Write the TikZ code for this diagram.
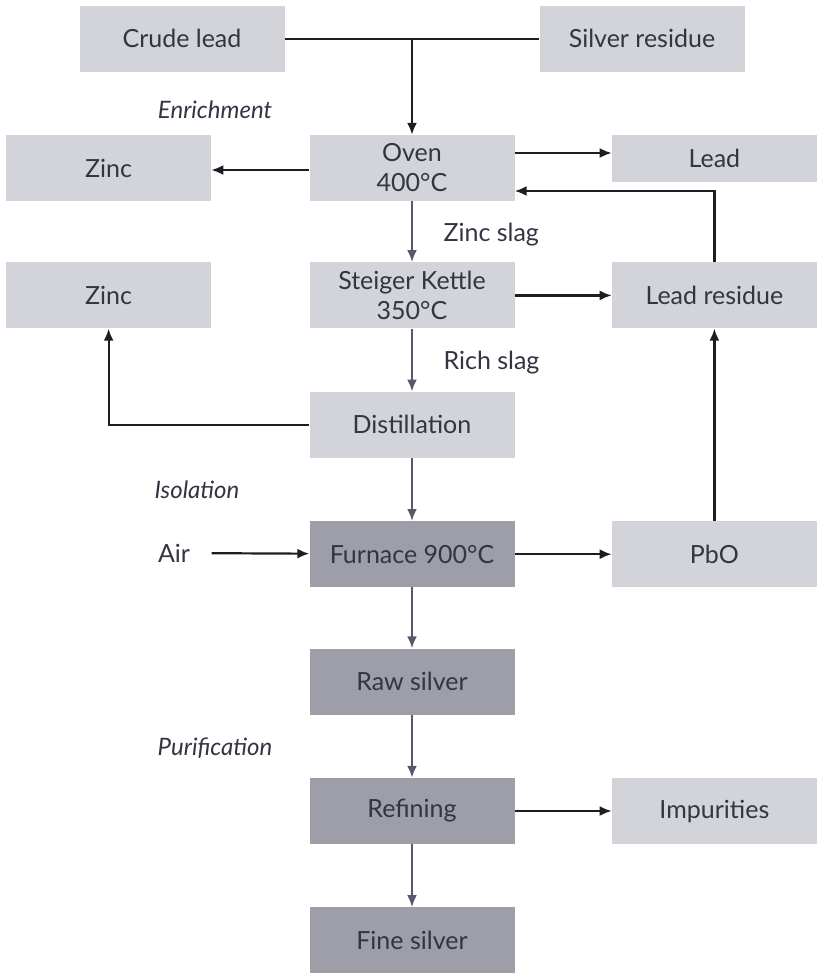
\documentclass[tikz,border=0pt]{standalone}
\usepackage{fontspec}
\setmainfont{Lato}
\usepackage{xcolor}
\usetikzlibrary{arrows.meta,positioning,calc}
\definecolor{lightbox}{RGB}{211,212,217}
\definecolor{darkbox}{RGB}{157,158,168}
\definecolor{inktext}{RGB}{52,52,66}
\definecolor{flowgray}{RGB}{88,89,108}
\definecolor{flowblack}{RGB}{30,30,34}

\begin{document}
\begin{tikzpicture}[x=1pt, y=-1pt, >={Latex[length=12pt,width=10pt]},
  font=\fontsize{25}{30}\selectfont, text=inktext]
\tikzstyle{lbox}=[fill=lightbox, minimum width=205pt, minimum height=66pt, inner sep=0pt, align=center]
\tikzstyle{dbox}=[fill=darkbox, minimum width=205pt, minimum height=66pt, inner sep=0pt, align=center]
\tikzstyle{down}=[->, draw=flowgray, line width=2.8pt]
\tikzstyle{side}=[->, draw=flowblack, line width=2.2pt]
\tikzstyle{stage}=[font=\fontsize{24}{29}\selectfont\itshape]
\useasboundingbox (0,0) rectangle (822,977);
% main column
\node[lbox] (oven) at (412,168) {Oven\\400°C};
\node[lbox, above=63pt of oven, xshift=-230pt] (crude) {Crude lead};
\node[lbox, above=63pt of oven, xshift=230pt] (silver) {Silver residue};
\node[lbox, below=61pt of oven] (kettle) {Steiger Kettle\\350°C};
\node[lbox, below=63pt of kettle] (distill) {Distillation};
\node[dbox, below=63pt of distill] (furnace) {Furnace 900°C};
\node[dbox, below=61pt of furnace] (raw) {Raw silver};
\node[dbox, below=63pt of raw] (refine) {Refining};
\node[dbox, below=63pt of refine] (fine) {Fine silver};
% side boxes
\node[lbox, left=98pt of oven] (zinctop) {Zinc};
\node[lbox, minimum height=47pt, anchor=north west] (lead) at ($(oven.north east)+(97,0)$) {Lead};
\node[lbox, left=98pt of kettle] (zincmid) {Zinc};
\node[lbox, right=97pt of kettle] (leadres) {Lead residue};
\node[lbox, right=97pt of furnace] (pbo) {PbO};
\node[lbox, right=97pt of refine] (impur) {Impurities};
\node (air) at (174,553) {Air};
% labels
\node[stage] (enrich) at (215,110) {Enrichment};
\node[stage] (isol) at (197,490) {Isolation};
\node[stage] (purif) at (215,748) {Purification};
\node[anchor=west] (zslag) at (440,235) {Zinc slag};
\node[anchor=west] (rslag) at (440,363) {Rich slag};
% connectors
\draw[flowblack, line width=2.2pt] (crude) -- (silver);
\draw[side] (oven.north |- crude.east) -- (oven.north);
\draw[side] ($(oven.west)+(0,2)$) coordinate (oz) -- (zinctop.east |- oz);
\draw[side] ($(oven.east)+(0,-15)$) coordinate (ol) -- (lead.west |- ol);
\draw[side] (leadres.north) |- ($(oven.east)+(0,23)$);
\draw[side] (kettle) -- (leadres);
\draw[side] (distill.west) -| (zincmid.south);
\draw[side, shorten <=18pt] (air) -- (furnace);
\draw[side] (furnace) -- (pbo);
\draw[side] (pbo) -- (leadres);
\draw[side] (refine) -- (impur);
\draw[down] (oven) -- (kettle);
\draw[down] (kettle) -- (distill);
\draw[down] (distill) -- (furnace);
\draw[down] (furnace) -- (raw);
\draw[down] (raw) -- (refine);
\draw[down] (refine) -- (fine);
\end{tikzpicture}
\end{document}
